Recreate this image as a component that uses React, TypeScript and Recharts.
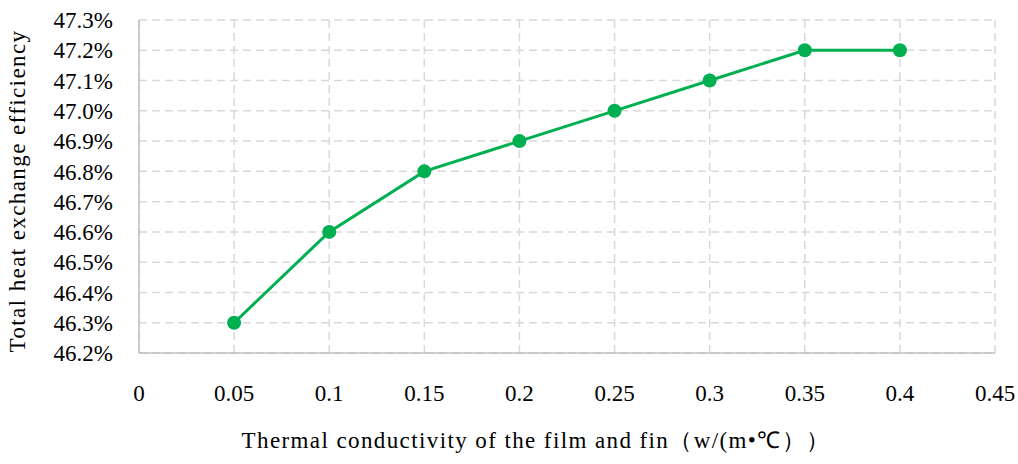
import React from "react";
import {
  LineChart,
  Line,
  XAxis,
  YAxis,
  CartesianGrid,
} from "recharts";

const conductivity = [0.05, 0.1, 0.15, 0.2, 0.25, 0.3, 0.35, 0.4];
const efficiency = [46.3, 46.6, 46.8, 46.9, 47.0, 47.1, 47.2, 47.2];
const xTicks = [0, 0.05, 0.1, 0.15, 0.2, 0.25, 0.3, 0.35, 0.4, 0.45];
const yTicks = [46.2, 46.3, 46.4, 46.5, 46.6, 46.7, 46.8, 46.9, 47.0, 47.1, 47.2, 47.3];

const data = conductivity.map((x, i) => ({ x, y: efficiency[i] }));

const FONT = "'Liberation Serif', 'Times New Roman', serif";
const GREEN = "#00b050";

export default function App() {
  return (
    <div style={{ position: "absolute", left: 0, top: 0, fontFamily: FONT }}>
      <LineChart
        width={1018}
        height={464}
        data={data}
        margin={{ top: 20, right: 23, bottom: 0, left: 0 }}
      >
        <CartesianGrid stroke="#d9d9d9" strokeWidth={1.5} strokeDasharray="8 5" />
        <XAxis
          dataKey="x"
          type="number"
          domain={[0, 0.45]}
          ticks={xTicks}
          interval={0}
          tickFormatter={(v) => String(v)}
          stroke="#bfbfbf"
          strokeWidth={1.5}
          tickLine={false}
          tickSize={0}
          tickMargin={32}
          height={111}
          tick={{ fill: "#000", fontSize: 23, fontFamily: FONT }}
          label={() => (
            <text
              x={536}
              y={448}
              textAnchor="middle"
              fill="#000"
              fontSize={23}
              letterSpacing={1.4}
              fontFamily={FONT}
            >
              Thermal conductivity of the film and fin（w/(m•℃））
            </text>
          )}
        />
        <YAxis
          type="number"
          domain={[46.2, 47.3]}
          ticks={yTicks}
          interval={0}
          tickFormatter={(v) => `${Number(v).toFixed(1)}%`}
          stroke="#bfbfbf"
          strokeWidth={1.5}
          tickLine={false}
          tickSize={0}
          tickMargin={26}
          width={139}
          tick={{ fill: "#000", fontSize: 23, fontFamily: FONT }}
          label={() => (
            <text
              x={25}
              y={191}
              transform="rotate(-90, 25, 191)"
              textAnchor="middle"
              fill="#000"
              fontSize={23}
              letterSpacing={1.4}
              fontFamily={FONT}
            >
              Total heat exchange efficiency
            </text>
          )}
        />
        <Line
          dataKey="y"
          stroke={GREEN}
          strokeWidth={3}
          dot={{ r: 7, fill: GREEN, stroke: GREEN, strokeWidth: 0 }}
          activeDot={false}
          isAnimationActive={false}
        />
      </LineChart>
    </div>
  );
}
